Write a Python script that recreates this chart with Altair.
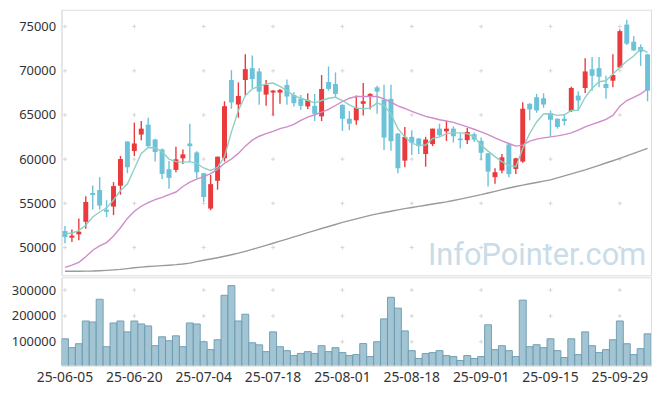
import altair as alt
import pandas as pd

dates = [
    "25-06-05", "25-06-09", "25-06-10", "25-06-11", "25-06-12", "25-06-13", "25-06-16", "25-06-17", "25-06-18", "25-06-19",
    "25-06-20", "25-06-23", "25-06-24", "25-06-25", "25-06-26", "25-06-27", "25-06-30", "25-07-01", "25-07-02", "25-07-03",
    "25-07-04", "25-07-07", "25-07-08", "25-07-09", "25-07-10", "25-07-11", "25-07-14", "25-07-15", "25-07-16", "25-07-17",
    "25-07-18", "25-07-21", "25-07-22", "25-07-23", "25-07-24", "25-07-25", "25-07-28", "25-07-29", "25-07-30", "25-07-31",
    "25-08-01", "25-08-04", "25-08-05", "25-08-06", "25-08-07", "25-08-08", "25-08-11", "25-08-12", "25-08-13", "25-08-14",
    "25-08-18", "25-08-19", "25-08-20", "25-08-21", "25-08-22", "25-08-25", "25-08-26", "25-08-27", "25-08-28", "25-08-29",
    "25-09-01", "25-09-02", "25-09-03", "25-09-04", "25-09-05", "25-09-08", "25-09-09", "25-09-10", "25-09-11", "25-09-12",
    "25-09-15", "25-09-16", "25-09-17", "25-09-18", "25-09-19", "25-09-22", "25-09-23", "25-09-24", "25-09-25", "25-09-26",
    "25-09-29", "25-09-30", "25-10-01", "25-10-02", "25-10-10",
]

opens = [
    51870, 51120, 51490, 52910, 56170, 56500, 54260, 54630, 56990, 62000,
    60910, 62780, 63900, 62220, 61100, 58860, 58780, 60090, 61770, 60760,
    58410, 54410, 57550, 60090, 68950, 66180, 68950, 70290, 69920, 67300,
    67530, 67530, 68390, 67260, 66820, 65960, 66030, 64840, 68720, 68500,
    66140, 64570, 64390, 66260, 67080, 68120, 66740, 66820, 62890, 59830,
    62520, 62330, 60580, 61700, 63450, 63150, 63450, 62330, 62140, 62820,
    62070, 60650, 57960, 58710, 61660, 58890, 59720, 66260, 67000, 66890,
    65210, 64570, 64570, 65430, 67190, 68050, 70180, 70290, 68500, 68870,
    70370, 75220, 73280, 72680, 71860,
]
highs = [
    52430, 52050, 53290, 55790, 57030, 57960, 55340, 57400, 60350, 62000,
    64130, 64310, 64690, 62300, 61200, 59790, 61400, 61100, 64010, 60900,
    58450, 58220, 60280, 66550, 70070, 68680, 71860, 71710, 70290, 68950,
    67830, 67940, 69020, 67560, 67260, 67450, 67380, 69510, 70480, 69810,
    66200, 65430, 67190, 68610, 67450, 68310, 68420, 68420, 62950, 63640,
    63270, 62380, 62520, 63450, 64010, 64310, 63710, 62890, 63530, 63000,
    62440, 60700, 58970, 60580, 61700, 60150, 66440, 66330, 67380, 67450,
    65510, 64600, 65130, 68200, 67680, 71410, 71560, 71560, 69430, 71860,
    74660, 75780, 73920, 72980, 71900,
]
lows = [
    50490, 50640, 50820, 52130, 54300, 54300, 53440, 53660, 55980, 58410,
    60350, 62150, 61320, 59720, 57740, 56650, 58520, 59450, 59720, 57850,
    55160, 54220, 56540, 59720, 65700, 64690, 67190, 68050, 66140, 66030,
    64950, 66260, 66140, 65960, 65580, 65660, 64310, 64310, 67750, 67000,
    63190, 63270, 63900, 64950, 65620, 65130, 61020, 60950, 58410, 59080,
    60460, 60580, 59150, 61470, 62520, 62070, 61880, 61210, 61700, 61960,
    59900, 56910, 57210, 58410, 57960, 58330, 59600, 64390, 65250, 65810,
    62590, 63450, 63830, 65320, 65510, 67490, 67750, 68120, 66820, 68120,
    70290, 72910, 72230, 70550, 66550,
]
closes = [
    51200, 51350, 51790, 55160, 55940, 54750, 54040, 56950, 60010, 59080,
    61770, 63450, 61470, 60800, 58330, 57880, 59980, 60540, 61470, 58520,
    55720, 57170, 60280, 65990, 66410, 67150, 70180, 69060, 67640, 68390,
    67750, 67830, 67080, 66330, 66030, 66700, 65130, 67940, 67940, 67380,
    64570, 64010, 65810, 66550, 67380, 67640, 62440, 62030, 58970, 62520,
    61850, 61470, 62220, 63450, 62710, 63450, 62590, 62140, 63080, 62220,
    60720, 58590, 58520, 60200, 58300, 60090, 65700, 65620, 65510, 66180,
    64460, 63640, 64310, 68050, 66630, 69920, 69430, 69320, 68050, 69510,
    74480, 73060, 72310, 72160, 67750,
]
volumes = [
    111500, 77100, 92400, 180400, 176500, 264500, 80900, 172700, 180400, 138300,
    180400, 168900, 161300, 84800, 119200, 103900, 123000, 80900, 172700, 168900,
    100100, 69500, 107700, 279800, 317500, 180400, 206500, 96200, 88000, 61800,
    138300, 80900, 65600, 46500, 54800, 61800, 54800, 84800, 61800, 77100,
    58000, 46500, 50400, 93000, 42700, 100100, 188600, 272200, 230100, 142100,
    65600, 35100, 54200, 58000, 65600, 46500, 42700, 27400, 46500, 35100,
    42700, 165700, 69500, 84800, 65600, 42700, 261300, 80900, 88600, 77100,
    111500, 65600, 38900, 111500, 50400, 138300, 84800, 58000, 69500, 107700,
    180400, 92400, 50400, 73300, 130700,
]
ma5 = [
    51550, 51650, 51920, 52520, 53450, 54020, 54480, 55360, 56450, 57190,
    58910, 60650, 61320, 61290, 60840, 60010, 59720, 59640, 59720, 59530,
    59000, 58720, 59080, 60280, 63080, 65510, 67190, 67940, 68240, 68500,
    68610, 68240, 67750, 67190, 66890, 66630, 66370, 66630, 66890, 67000,
    66630, 66140, 65770, 65700, 65770, 66370, 66070, 65130, 63450, 62520,
    61770, 61580, 61580, 62330, 62520, 62890, 62970, 62970, 62890, 62520,
    61580, 60910, 60280, 59720, 59270, 59150, 61200, 62900, 64200, 65100,
    65130, 64950, 65020, 65510, 65510, 67000, 68010, 68760, 68870, 69620,
    70370, 71110, 71670, 72500, 72050,
]
ma20 = [
    47760, 48020, 48320, 48950, 49700, 50190, 50560, 51310, 52240, 53290,
    54110, 54670, 55080, 55420, 55680, 55980, 56280, 56910, 57400, 57740,
    58030, 58370, 58840, 59530, 60010, 60650, 61470, 62150, 62590, 62890,
    63150, 63450, 63640, 63940, 64390, 64760, 65020, 65320, 65620, 66070,
    66520, 66890, 67080, 67080, 67080, 67080, 66820, 66440, 66030, 65730,
    65400, 65130, 64840, 64650, 64460, 64310, 64160, 63900, 63640, 63380,
    63080, 62780, 62410, 62070, 61770, 61470, 61580, 62030, 62260, 62410,
    62520, 62630, 62780, 62970, 63270, 63640, 63940, 64200, 64500, 64950,
    65990, 66630, 67000, 67380, 67940,
]
ma120 = [
    47310, 47315, 47320, 47330, 47345, 47380, 47420, 47470, 47530, 47620,
    47720, 47790, 47850, 47900, 47950, 48000, 48060, 48140, 48240, 48400,
    48560, 48700, 48850, 49010, 49180, 49360, 49570, 49790, 50020, 50250,
    50480, 50720, 50960, 51200, 51440, 51680, 51920, 52150, 52380, 52610,
    52840, 53040, 53240, 53440, 53630, 53810, 53960, 54110, 54260, 54400,
    54530, 54660, 54790, 54920, 55040, 55160, 55320, 55480, 55650, 55810,
    55980, 56170, 56360, 56550, 56730, 56910, 57060, 57210, 57360, 57510,
    57660, 57880, 58100, 58330, 58550, 58780, 59040, 59300, 59560, 59820,
    60090, 60370, 60650, 60930, 61210,
]

price_ticks = [50000, 55000, 60000, 65000, 70000, 75000]
volume_ticks = [100000, 200000, 300000]
label_dates = dates[0:81:10]
watermark = "InfoPointer.com"

FONT = "Noto Sans"
UP = "#ea3a3e"
DOWN = "#6cc2d8"
GRID = "#d6d6d6"
W = 595
YEXT = 52

df = pd.DataFrame({
    "date": dates, "open": opens, "high": highs, "low": lows, "close": closes,
    "volume": volumes, "ma5": ma5, "ma20": ma20, "ma120": ma120,
})
df["dir"] = ["up" if c >= o else "down" for o, c in zip(opens, closes)]

grid_price = pd.DataFrame([(d, v) for d in label_dates for v in price_ticks], columns=["date", "v"])
grid_vol = pd.DataFrame([(d, v) for d in label_dates for v in volume_ticks], columns=["date", "v"])

xscale = alt.Scale(domain=dates, paddingInner=0, paddingOuter=0)
x_noaxis = alt.X("date:N", sort=dates, scale=xscale, axis=None)
color = alt.Color("dir:N", scale=alt.Scale(domain=["up", "down"], range=[UP, DOWN]), legend=None)

price_scale = alt.Scale(domain=[46860, 76900], nice=False, zero=False)
price_axis = alt.Axis(values=price_ticks, format="d", grid=False, ticks=False, labelPadding=6,
                      minExtent=YEXT, maxExtent=YEXT,
                      domainColor="#dedede", labelColor="#333333", labelFontSize=13, labelFont=FONT, title=None)

cross = "M-1,0L1,0M0,-1L0,1"

p_grid = alt.Chart(grid_price).mark_point(shape=cross, size=16, filled=False, stroke=GRID, strokeWidth=1, opacity=1).encode(
    x=x_noaxis, y=alt.Y("v:Q", scale=price_scale, axis=price_axis))

wm = alt.Chart(pd.DataFrame({"t": [watermark]})).mark_text(
    align="right", baseline="alphabetic", fontSize=31, font="Roboto", color="#c9dce7").encode(
    text="t:N", x=alt.value(W - 5), y=alt.value(258))

wick = alt.Chart(df).mark_rule(strokeWidth=1.4).encode(
    x=x_noaxis, y=alt.Y("low:Q", scale=price_scale), y2="high:Q", color=color)
body = alt.Chart(df).mark_bar(size=5).encode(
    x=x_noaxis, y=alt.Y("open:Q", scale=price_scale), y2="close:Q", color=color)

l120 = alt.Chart(df).mark_line(color="#9a9a9a", strokeWidth=1.4).encode(x=x_noaxis, y=alt.Y("ma120:Q", scale=price_scale))
l20 = alt.Chart(df).mark_line(color="#cf8cc9", strokeWidth=1.4).encode(x=x_noaxis, y=alt.Y("ma20:Q", scale=price_scale))
l5 = alt.Chart(df).mark_line(color="#8fcfc3", strokeWidth=1.4).encode(x=x_noaxis, y=alt.Y("ma5:Q", scale=price_scale))

price = alt.layer(p_grid, wm, wick, body, l120, l20, l5).properties(width=W, height=268)

vol_scale = alt.Scale(domain=[8200, 349700], nice=False, zero=False)
vol_axis = alt.Axis(values=volume_ticks, format="d", grid=False, ticks=False, labelPadding=6,
                    minExtent=YEXT, maxExtent=YEXT,
                    domainColor="#dedede", labelColor="#333333", labelFontSize=13, labelFont=FONT, title=None)
x_axis = alt.X("date:N", sort=dates, scale=xscale,
               axis=alt.Axis(values=label_dates, labelAngle=0, ticks=False, grid=False, domainColor="#dedede",
                             labelPadding=5, labelFontSize=14, labelFont=FONT, labelColor="#333333", title=None))

v_grid = alt.Chart(grid_vol).mark_point(shape=cross, size=16, filled=False, stroke=GRID, strokeWidth=1, opacity=1).encode(
    x=x_axis, y=alt.Y("v:Q", scale=vol_scale, axis=vol_axis))
vbars = alt.Chart(df).mark_bar(fill="#9dc1d1", stroke="#6d9cb2", strokeWidth=1, opacity=0.95, clip=True).encode(
    x=x_axis, y=alt.Y("volume:Q", scale=vol_scale))

volume = alt.layer(v_grid, vbars).properties(width=W, height=89)

chart = alt.vconcat(price, volume, spacing=0).properties(
    padding={"left": 1, "top": -1, "right": 5, "bottom": 2}
).configure_view(stroke="#e3e3e3").configure(background="white")

chart.save("out.html", embed_options={"renderer": "svg", "actions": False})
